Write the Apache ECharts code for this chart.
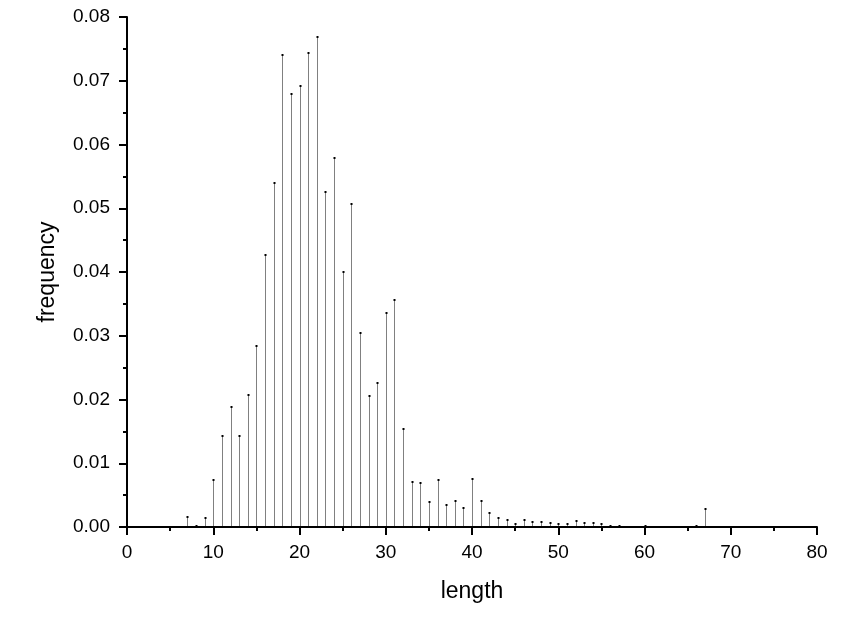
<!DOCTYPE html>
<html>
<head>
<meta charset="utf-8">
<script src="https://cdn.jsdelivr.net/npm/echarts@6/dist/echarts.min.js"></script>
<style>
html,body{margin:0;padding:0;background:#fff;}
#chart{width:858px;height:618px;}
</style>
</head>
<body>
<div id="chart"></div>
<script>
var lengths = [7,8,9,10,11,12,13,14,15,16,17,18,19,20,21,22,23,24,25,26,27,28,29,30,31,32,33,34,35,36,37,38,39,40,41,42,43,44,45,46,47,48,49,50,51,52,53,54,55,56,57,60,66,67];
var frequencies = [0.0015,0.00013,0.0014,0.0073,0.0143,0.0188,0.0143,0.0207,0.0284,0.0427,0.0539,0.0741,0.0679,0.0692,0.0744,0.0769,0.0526,0.0579,0.0400,0.0507,0.0305,0.0205,0.0226,0.0336,0.0356,0.0154,0.0070,0.0069,0.0039,0.0074,0.0034,0.0041,0.0030,0.0075,0.0041,0.0022,0.0014,0.0011,0.00045,0.0011,0.00074,0.00074,0.0006,0.00045,0.00045,0.0010,0.0006,0.0006,0.00045,0.00013,0.00013,0.00013,0.00013,0.0028];
var xTicks = [0,10,20,30,40,50,60,70,80];
var yTicks = [0,0.01,0.02,0.03,0.04,0.05,0.06,0.07,0.08];

var data = lengths.map(function(l,i){return [l, frequencies[i]];});
var chart = echarts.init(document.getElementById('chart'), null, {renderer:'canvas'});
var font = '"Liberation Sans", Arial, sans-serif';
var axisCommon = {
  axisLine:{show:true, onZero:false, lineStyle:{color:'#000', width:2}},
  axisTick:{show:true, inside:false, length:8, lineStyle:{color:'#000', width:2}},
  minorTick:{show:true, splitNumber:2, length:4, lineStyle:{color:'#000', width:2}},
  splitLine:{show:false},
  nameTextStyle:{color:'#000', fontFamily:font, fontSize:23}
};
chart.setOption({
  animation:false,
  backgroundColor:'#fff',
  grid:{left:127, right:41, top:17, bottom:91, containLabel:false},
  xAxis: Object.assign({}, axisCommon, {
    type:'value', min:xTicks[0], max:xTicks[xTicks.length-1], interval:10,
    name:'length', nameLocation:'middle', nameGap:53,
    axisLabel:{color:'#000', fontFamily:font, fontSize:19, margin:16}
  }),
  yAxis: Object.assign({}, axisCommon, {
    type:'value', min:yTicks[0], max:yTicks[yTicks.length-1], interval:0.01,
    name:'frequency', nameLocation:'middle', nameGap:68, nameRotate:90,
    axisLabel:{color:'#000', fontFamily:font, fontSize:19, margin:17,
      formatter:function(v){return v.toFixed(2);}}
  }),
  series:[{
    type:'custom',
    data:data,
    clip:false,
    renderItem:function(params, api){
      var top = api.coord([api.value(0), api.value(1)]);
      var base = api.coord([api.value(0), 0]);
      var x = Math.round(top[0]) + 0.5;
      return {
        type:'group',
        children:[
          {type:'line', shape:{x1:x, y1:base[1]-1, x2:x, y2:top[1]},
           style:{stroke:'#808080', lineWidth:1}},
          {type:'rect', shape:{x:x-1, y:Math.round(top[1])-1, width:2, height:2},
           style:{fill:'#000'}}
        ]
      };
    }
  }]
});
</script>
</body>
</html>
